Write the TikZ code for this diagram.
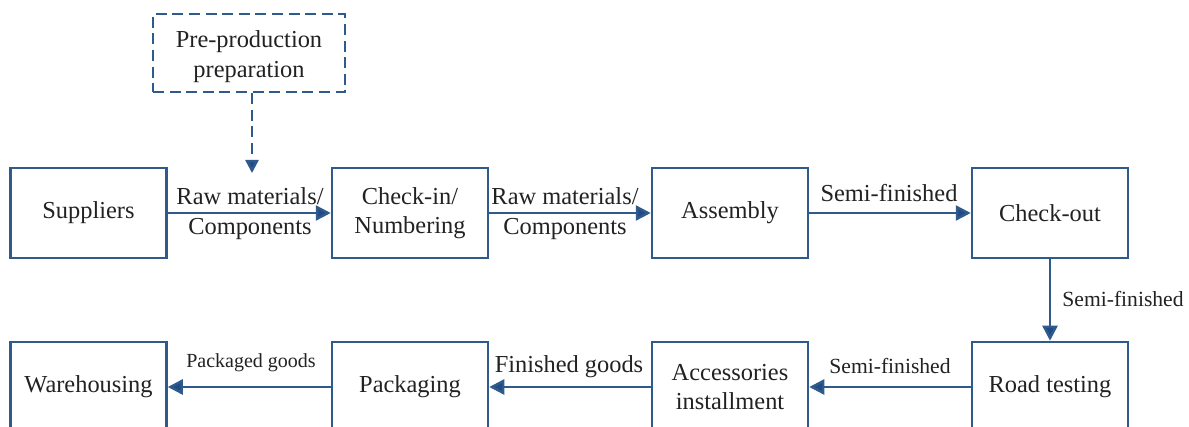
\documentclass[tikz,border=0pt]{standalone}
\usepackage{fontspec}
\setmainfont{Liberation Serif}
\usetikzlibrary{arrows.meta}
\definecolor{lineblue}{HTML}{2E5A8C}
\definecolor{tipblue}{HTML}{1F4A85}
\definecolor{txt}{HTML}{222222}
\tikzset{
  box/.style={draw=lineblue, line width=1.25pt, minimum width=78pt, minimum height=45pt,
    inner sep=0pt, align=center, text=txt, font=\fontsize{12.2}{14.5}\selectfont},
  dbox/.style={box, dash pattern=on 5.5pt off 2.8pt, minimum width=96pt, minimum height=39pt},
  conn/.style={draw=lineblue, line width=1.25pt, -{Triangle[length=7.5pt,width=7.5pt,fill=tipblue]}},
  dconn/.style={conn, dash pattern=on 5.5pt off 2.8pt, -{Triangle[length=6.5pt,width=6.5pt,fill=tipblue]}},
  lbl/.style={text=txt, align=center, inner sep=1pt, font=\fontsize{12.2}{15}\selectfont},
  slbl/.style={text=txt, align=center, inner sep=1pt, font=\fontsize{10.8}{13}\selectfont},
}
\begin{document}
\begin{tikzpicture}[x=0.5pt, y=-0.5pt]
\useasboundingbox (0,0) rectangle (1189,427);
\clip (0,0) rectangle (1189,427);
\fill[white] (0,0) rectangle (1189,427);
% top dashed box
\node[dbox] (pre) at (249,53) {};
\node[lbl] (pretext) at (249,57) {Pre-production\\[0pt]preparation};
% row 1
\node[box] (sup) at (88.5,213) {Suppliers};
\node[box] (chk) at (410,213) {Check-in/\\Numbering};
\node[box] (asm) at (730,213) {Assembly};
\node[box] (out) at (1050,213) {Check-out};
% row 2
\node[box] (war) at (88.5,387) {Warehousing};
\node[box] (pak) at (410,387) {Packaging};
\node[box] (acc) at (730,387) {Accessories\\installment};
\node[box] (road) at (1050,387) {Road testing};
\coordinate (pretip) at (252,173);
% connectors
\draw[dconn] (pre.south -| pretip) -- (pretip);
\draw[conn] (sup) -- (chk);
\draw[conn] (chk) -- (asm);
\draw[conn] (asm) -- (out);
\draw[conn] (out) -- (road);
\draw[conn] (road) -- (acc);
\draw[conn] (acc) -- (pak);
\draw[conn] (pak) -- (war);
% labels
\node[lbl] (l1) at (250,214) {Raw materials/\\Components};
\node[lbl] (l2) at (565,214) {Raw materials/\\Components};
\node[lbl, anchor=base] (l3) at (889,202) {Semi-finished};
\node[slbl, anchor=west] (l4) at (1060,299) {Semi-finished};
\node[slbl, anchor=base] (l5) at (890,373) {Semi-finished};
\node[lbl, anchor=base] (l6) at (569,372) {Finished goods};
\node[slbl, anchor=base, font=\fontsize{10}{12}\selectfont] (l7) at (251,367) {Packaged goods};
\end{tikzpicture}
\end{document}
